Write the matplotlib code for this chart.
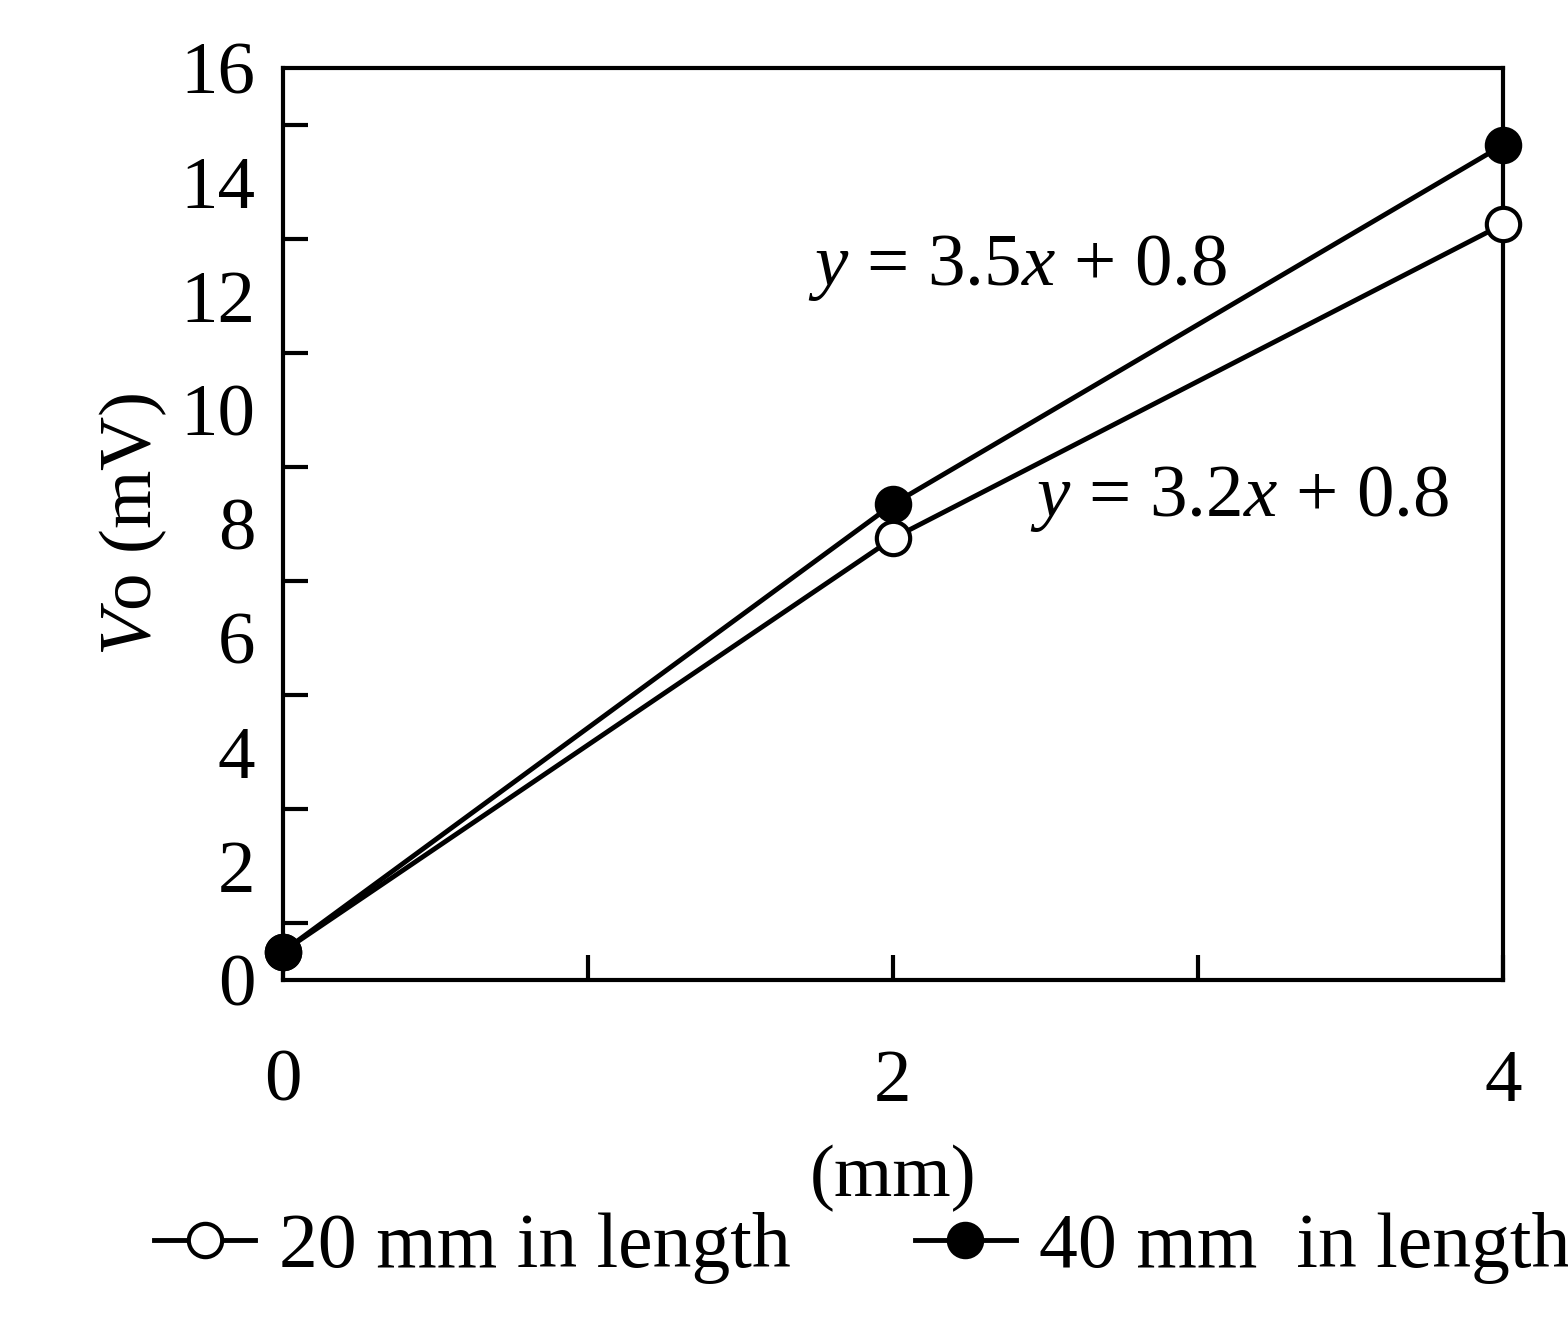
import matplotlib.pyplot as plt
from matplotlib.ticker import MultipleLocator

plt.rcParams['font.family'] = ['Liberation Serif', 'DejaVu Serif']
plt.rcParams['mathtext.fontset'] = 'custom'
plt.rcParams['mathtext.rm'] = 'Liberation Serif'
plt.rcParams['mathtext.it'] = 'Liberation Serif:italic'

x = [0, 2, 4]
v_20mm = [0.5, 7.75, 13.26]
v_40mm = [0.5, 8.35, 14.65]

fig = plt.figure(figsize=(15.68, 13.41), dpi=100)
ax = fig.add_axes([0.1805, 0.2692, 0.778, 0.680])

ax.plot(x, v_20mm, '-o', color='black', lw=3.5, ms=24, mfc='white', mew=3,
        label='20 mm in length', clip_on=False, zorder=3)
ax.plot(x, v_40mm, '-o', color='black', lw=3.5, ms=24, mfc='black', mew=3,
        label='40 mm  in length', clip_on=False, zorder=3)

ax.set_xlim(0, 4)
ax.set_ylim(0, 16)
ax.xaxis.set_major_locator(MultipleLocator(2))
ax.xaxis.set_minor_locator(MultipleLocator(1))
ax.yaxis.set_major_locator(MultipleLocator(2))
ax.yaxis.set_minor_locator(MultipleLocator(1))
ax.tick_params(axis='both', which='both', direction='in', width=3, labelsize=54)
ax.tick_params(axis='y', which='major', length=0, pad=20)
ax.tick_params(axis='y', which='minor', length=18)
ax.tick_params(axis='x', which='major', length=18, pad=50)
ax.tick_params(axis='x', which='minor', length=18)
for s in ax.spines.values():
    s.set_linewidth(3)

ax.set_ylabel(r'$V$o (mV)', fontsize=54, labelpad=8)
ax.set_xlabel('(mm)', fontsize=54, labelpad=20)

ax.text(1.72, 12.2, r'$y$ = 3.5$x$ + 0.8', fontsize=54)
ax.text(2.45, 8.15, r'$y$ = 3.2$x$ + 0.8', fontsize=54)

fig.legend(loc='lower center', bbox_to_anchor=(0.55, -0.01), ncol=2, frameon=False,
           fontsize=56, handlelength=1.3, handletextpad=0.3, columnspacing=1.6)

fig.savefig('out.png', dpi=100)
